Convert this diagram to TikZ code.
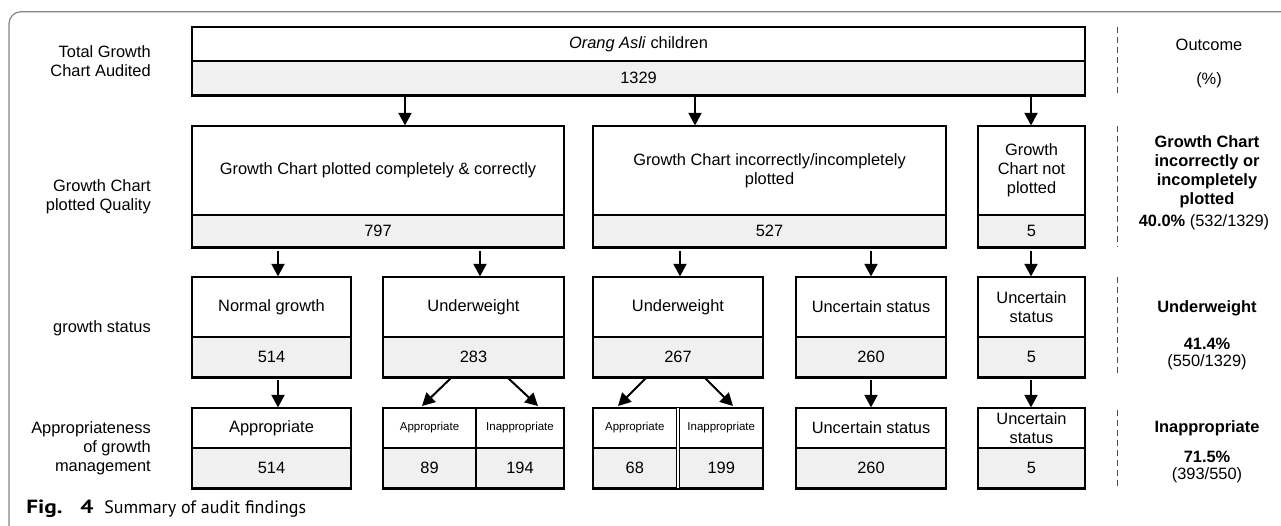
\documentclass[tikz,border=0pt]{standalone}
\usepackage{fontspec}
\setmainfont{Liberation Sans}[BoldFont={Liberation Sans Bold},ItalicFont={Liberation Sans Italic}]
\newfontfamily\capfont{PT Sans}
\newfontfamily\capbold{PT Sans}[UprightFont={PT Sans Bold},FakeStretch=1.22]
\usetikzlibrary{arrows.meta}
\definecolor{cellgray}{HTML}{F0F0F0}
\definecolor{framegray}{HTML}{858585}
\tikzset{
  every node/.style={font=\fontsize{12.3}{14.3}\selectfont, inner sep=0pt, align=center},
  topcell/.style={draw, line width=0.85pt, fill=white},
  numcell/.style={draw, line width=0.85pt, fill=cellgray},
  outer/.style={line width=1.0pt},
  hline/.style={line width=1.4pt},
  arr/.style={line width=1.5pt, -{Triangle[width=9.8pt,length=9.5pt]}},
  small/.style={font=\fontsize{8.6}{10}\selectfont},
  lab/.style={anchor=east, align=right},
  outc/.style={align=center},
  tight/.style={font=\fontsize{12.3}{12.3}\selectfont},
  sep/.style={draw=black!70, line width=0.6pt, dash pattern=on 4.5pt off 3pt},
  frame/.style={draw=framegray, line width=0.9pt, rounded corners=9pt},
  capn/.style={anchor=base west, font=\capfont\fontsize{13.5}{16}\selectfont},
  capb/.style={anchor=base west, font=\capbold\fontsize{14.3}{17}\selectfont},
}
\newcommand{\cellbox}[7]{\node[#6, minimum width={(#4-#2)*0.75pt}, minimum height={(#5-#3)*0.75pt}] (#1) at ({(#2+#4)/2},{(#3+#5)/2}) {#7};}
\newcommand{\myframebox}[2]{\draw[outer] (#1.north west) rectangle (#2.south east);
  \draw[hline] (#1.north west) -- (#1.north west -| #2.east);
  \draw[hline] (#2.south east) -- (#2.south east -| #1.west);}
\begin{document}
\begin{tikzpicture}[x=0.75pt,y=-0.75pt]
\useasboundingbox (0,0) rectangle (1281,525);
\begin{scope}
\clip (0,0) rectangle (1281,525);
\draw[frame] (9,560) -- (9,11.7) -- (1320,11.7);
\end{scope}
% top row
\cellbox{t}{192}{27}{1085}{61}{topcell}{\textit{Orang Asli} children}
\cellbox{tn}{192}{61}{1085}{95}{numcell}{1329}
% row 2
\cellbox{a}{192}{126}{564}{215}{topcell}{Growth Chart plotted completely \& correctly}
\cellbox{an}{192}{215}{564}{247}{numcell}{797}
\cellbox{b}{593}{126}{946}{215}{topcell}{Growth Chart incorrectly/incompletely\\plotted}
\cellbox{bn}{593}{215}{946}{247}{numcell}{527}
\cellbox{c}{978}{126}{1085}{215}{topcell}{Growth\\Chart not\\plotted}
\cellbox{cn}{978}{215}{1085}{247}{numcell}{5}
% row 3
\cellbox{d}{192}{277}{351}{337}{topcell}{Normal growth}
\cellbox{dn}{192}{337}{351}{377}{numcell}{514}
\cellbox{e}{383}{277}{564}{337}{topcell}{Underweight}
\cellbox{en}{383}{337}{564}{377}{numcell}{283}
\cellbox{f}{593}{277}{763}{337}{topcell}{Underweight}
\cellbox{fn}{593}{337}{763}{377}{numcell}{267}
\cellbox{g}{796}{277}{946}{337}{topcell}{Uncertain status}
\cellbox{gn}{796}{337}{946}{377}{numcell}{260}
\cellbox{h}{978}{277}{1085}{337}{topcell}{Uncertain\\status}
\cellbox{hn}{978}{337}{1085}{377}{numcell}{5}
% row 4
\cellbox{p}{192}{408}{351}{448}{topcell}{Appropriate}
\cellbox{pn}{192}{448}{351}{488}{numcell}{514}
\cellbox{q1}{383}{408}{476}{448}{topcell,small}{Appropriate}
\cellbox{q2}{476}{408}{564}{448}{topcell,small}{Inappropriate}
\cellbox{q1n}{383}{448}{476}{488}{numcell}{89}
\cellbox{q2n}{476}{448}{564}{488}{numcell}{194}
\cellbox{r1}{593}{408}{676.5}{448}{topcell,small}{Appropriate}
\cellbox{r2}{679.5}{408}{763}{448}{topcell,small}{Inappropriate}
\cellbox{r1n}{593}{448}{676.5}{488}{numcell}{68}
\cellbox{r2n}{679.5}{448}{763}{488}{numcell}{199}
\cellbox{s}{796}{408}{946}{448}{topcell}{Uncertain status}
\cellbox{sn}{796}{448}{946}{488}{numcell}{260}
\cellbox{u}{978}{408}{1085}{448}{topcell}{Uncertain\\status}
\cellbox{un}{978}{448}{1085}{488}{numcell}{5}
% outer frames
\myframebox{t}{tn}\myframebox{a}{an}\myframebox{b}{bn}\myframebox{c}{cn}
\myframebox{d}{dn}\myframebox{e}{en}\myframebox{f}{fn}\myframebox{g}{gn}\myframebox{h}{hn}
\myframebox{p}{pn}\myframebox{q1}{q2n}\myframebox{r1}{r2n}\myframebox{s}{sn}\myframebox{u}{un}
% left labels
\node[lab] (l1) at (151,61.5) {Total Growth\\Chart Audited};
\node[lab] (l2) at (151,197) {Growth Chart\\plotted Quality};
\node[lab] (l3) at (151,328) {growth status};
\node[lab] (l4) at (151,448) {Appropriateness\\of growth\\management};
% right column
\node[outc] (o1) at (1209,45) {Outcome};
\node[outc] (o2) at (1209,80) {(\%)};
\node[outc] (o3) at (1207,171.5) {\textbf{Growth Chart}\\\textbf{incorrectly or}\\\textbf{incompletely}\\\textbf{plotted}};
\node[outc] (o4) at (1204,222) {\textbf{40.0\%} (532/1329)};
\node[outc] (o5) at (1207,308) {\textbf{Underweight}};
\node[outc,tight] (o6) at (1207,354) {\textbf{41.4\%}\\(550/1329)};
\node[outc] (o7) at (1207,428) {\textbf{Inappropriate}};
\node[outc,tight] (o8) at (1207,467) {\textbf{71.5\%}\\(393/550)};
% dashed separators
\draw[sep] (1117,27) -- (1117,93);
\draw[sep] (1117,126) -- (1117,247);
\draw[sep] (1117,277) -- (1117,377);
\draw[sep] (1117,410) -- (1117,488);
% arrows row 1 -> 2
\coordinate (ta1) at (405,97);
\coordinate (ta2) at (695,97);
\coordinate (ta3) at (1031,97);
\draw[arr] (ta1) -- (ta1 |- a.north);
\draw[arr] (ta2) -- (ta2 |- b.north);
\draw[arr] (ta3) -- (ta3 |- c.north);
% arrows row 2 -> 3
\coordinate (m1) at (278,251);
\coordinate (m2) at (480,251);
\coordinate (m3) at (680,251);
\coordinate (m4) at (871,251);
\coordinate (m5) at (1031,251);
\draw[arr] (m1) -- (m1 |- d.north);
\draw[arr] (m2) -- (m2 |- e.north);
\draw[arr] (m3) -- (m3 |- f.north);
\draw[arr] (m4) -- (m4 |- g.north);
\draw[arr] (m5) -- (m5 |- h.north);
% arrows row 3 -> 4
\coordinate (n1) at (278,380);
\coordinate (n2) at (451,378);
\coordinate (n2e) at (422,406);
\coordinate (n3) at (508,378);
\coordinate (n3e) at (538,406);
\coordinate (n4) at (646,378);
\coordinate (n4e) at (618,406);
\coordinate (n5) at (705,378);
\coordinate (n5e) at (733,406);
\coordinate (n6) at (871,380);
\coordinate (n7) at (1031,380);
\draw[arr] (n1) -- (n1 |- p.north);
\draw[arr] (n2) -- (n2e);
\draw[arr] (n3) -- (n3e);
\draw[arr] (n4) -- (n4e);
\draw[arr] (n5) -- (n5e);
\draw[arr] (n6) -- (n6 |- s.north);
\draw[arr] (n7) -- (n7 |- u.north);
% caption
\node[capb] (cap1) at (26,513) {Fig.};
\node[capb] (cap2) at (80,513) {4};
\node[capn] (cap3) at (104,513) {Summary of audit findings};
\end{tikzpicture}
\end{document}
